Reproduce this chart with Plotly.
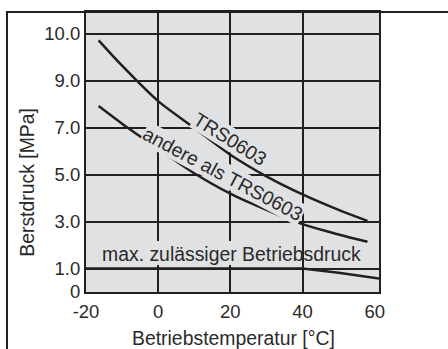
import numpy as np
import plotly.graph_objects as go

# Burst pressure [MPa] vs. operating temperature [°C]
temps = [-16.5, -10, 0, 10, 20, 30, 40, 50, 58]
burst_trs0603 = [9.86, 9.32, 8.13, 6.99, 5.85, 4.93, 4.16, 3.50, 3.03]
burst_other = [7.92, 7.17, 6.10, 5.06, 4.19, 3.50, 2.89, 2.45, 2.14]

# Maximum permissible operating pressure
max_temps = [-20, 40, 50, 61.2]
max_pressure = [1.0, 1.0, 0.82, 0.58]

# Pressure axis: labelled values and where they sit on the axis
y_tick_values = [0, 1.0, 3.0, 5.0, 7.0, 9.0, 10.0]
y_tick_text = ["0", "1.0", "3.0", "5.0", "7.0", "9.0", "10.0"]
y_tick_pos = [0, 1, 3, 5, 7, 9, 11]

x_tick_values = [-20, 0, 20, 40, 60]
x_grid = [0, 20, 40]

W, H = 448, 349
L, R, T, B = 86, 379, 10, 292          # plot area in pixels
BG = "#e0e1e3"
INK = "#231f20"
TXT = "#2b2a2a"
FONT = "Liberation Sans, Arial, Helvetica, sans-serif"


def to_axis(v):
    return np.interp(v, y_tick_values, y_tick_pos)


def px(x):
    return (x - L) / (R - L)


def py(y):
    return (B - y) / (B - T)


fig = go.Figure()
line = dict(color=INK, width=2.5, shape="spline", smoothing=0.8)
fig.add_trace(go.Scatter(x=temps, y=to_axis(burst_trs0603), mode="lines", line=line))
fig.add_trace(go.Scatter(x=temps, y=to_axis(burst_other), mode="lines", line=line))
fig.add_trace(go.Scatter(x=max_temps, y=to_axis(max_pressure), mode="lines",
                         line=dict(color=INK, width=2.5)))

font = dict(family=FONT, size=19.4, color=TXT)
tick_font = dict(family=FONT, size=18.5, color=TXT)

fig.update_layout(
    width=W, height=H, autosize=False,
    margin=dict(l=L, r=W - R, t=T, b=H - B, pad=0),
    paper_bgcolor="white", plot_bgcolor=BG,
    showlegend=False, font=font,
    xaxis=dict(range=[-20, 61.2], tickvals=x_tick_values,
               ticktext=[str(v) for v in x_tick_values], tickfont=tick_font,
               ticklabelstandoff=2,
               showgrid=False, zeroline=False, ticks="",
               showline=True, mirror=True, linecolor=INK, linewidth=2,
               minor=dict(tickvals=x_grid, showgrid=True, gridcolor=INK, gridwidth=1.5, ticks="")),
    yaxis=dict(range=[0, (B - T) / 23.64], tickvals=y_tick_pos, ticktext=y_tick_text,
               tickfont=tick_font,
               showgrid=True, gridcolor=INK, gridwidth=1.5, zeroline=False, ticks="",
               showline=True, mirror=True, linecolor=INK, linewidth=2),
)

# Masks the grid behind the left part of the operating-pressure label
fig.add_shape(type="rect", layer="between", xref="x", yref="y",
              x0=-19.5, x1=37, y0=1.15, y1=2.17, fillcolor=BG, line=dict(width=0))

# Outer frame (left and top edges)
fig.add_shape(type="path", xref="paper", yref="paper",
              path=f"M {px(7)} {py(H + 5)} L {px(7)} {py(10)} L {px(W + 5)} {py(10)}",
              line=dict(color=INK, width=2))

fig.add_annotation(x=19.96, y=6.50, text="TRS0603", textangle=32, showarrow=False,
                   xanchor="center", yanchor="middle", bgcolor=BG, borderpad=0, font=font)
fig.add_annotation(x=18.1, y=5.02, text="andere als TRS0603", textangle=28, showarrow=False,
                   xanchor="center", yanchor="middle", bgcolor=BG, borderpad=0, font=font)
fig.add_annotation(x=20.3, y=1.61, text="max. zulässiger Betriebsdruck", showarrow=False,
                   xanchor="center", yanchor="middle", font=font)

fig.add_annotation(xref="paper", yref="paper", x=px(233), y=py(338),
                   xanchor="center", yanchor="middle",
                   text="Betriebstemperatur [°C]", showarrow=False, font=font)
fig.add_annotation(xref="paper", yref="paper", x=px(27.5), y=py(181.5),
                   xanchor="center", yanchor="middle",
                   text="Berstdruck [MPa]", textangle=-90, showarrow=False, font=font)

fig.write_html("out.html")
